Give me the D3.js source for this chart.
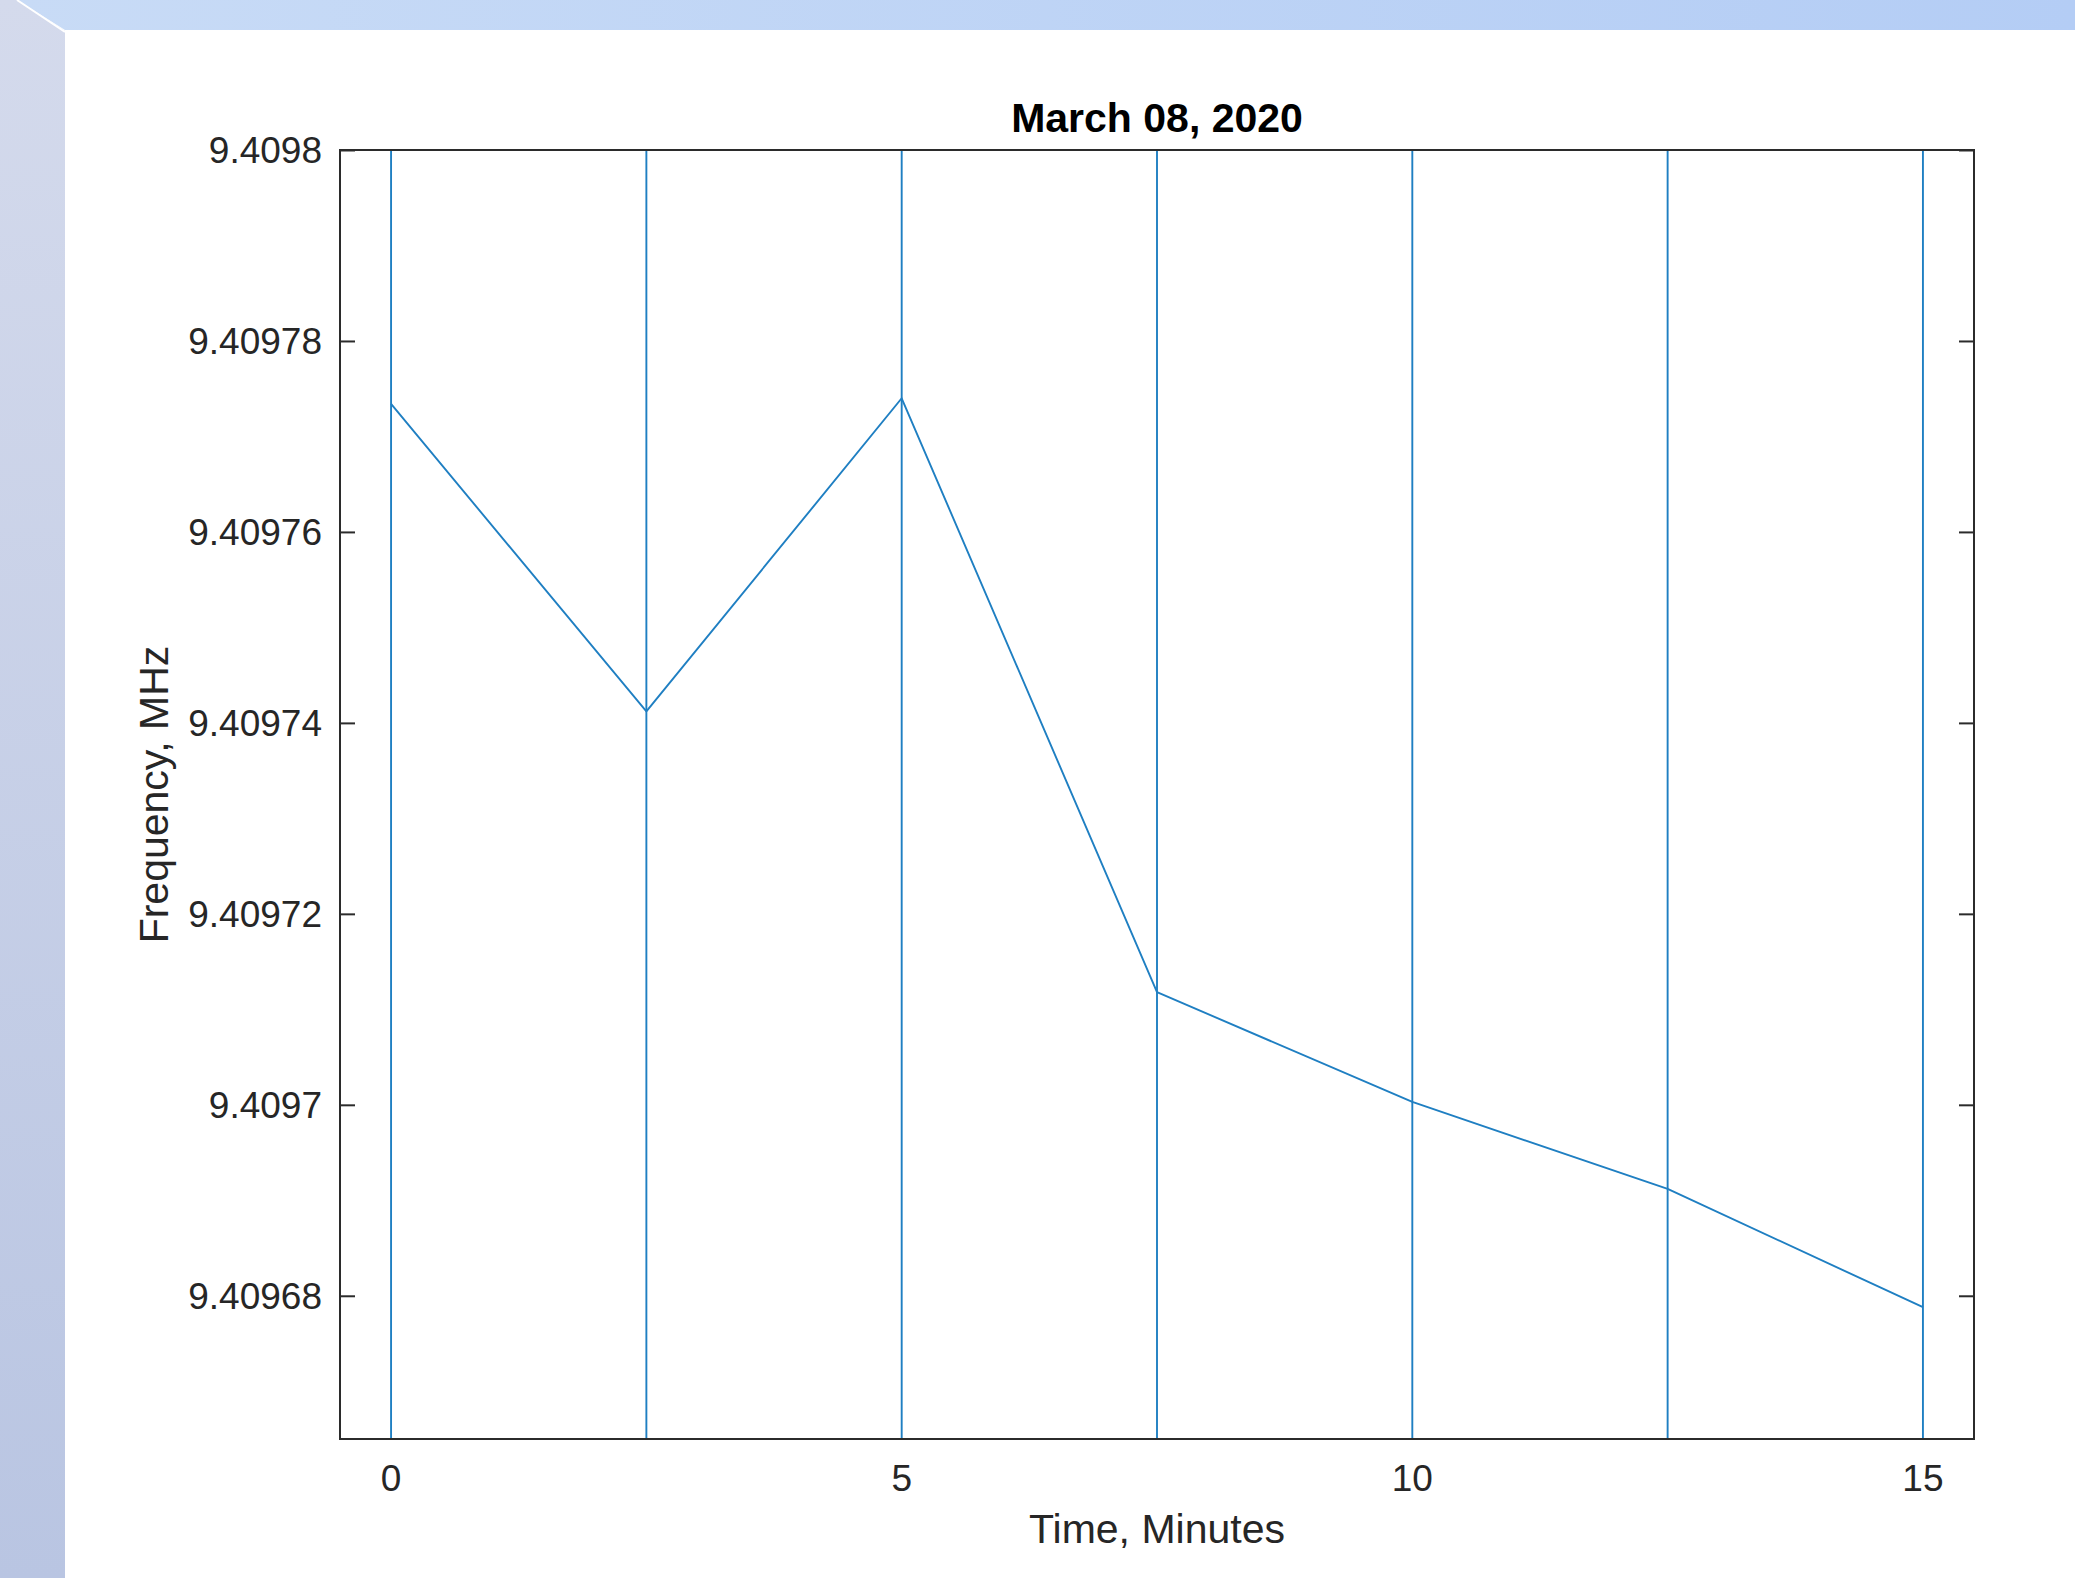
<!DOCTYPE html>
<html>
<head>
<meta charset="utf-8">
<script src="https://cdn.jsdelivr.net/npm/d3@7"></script>
<style>
  html, body { margin: 0; padding: 0; background: #ffffff; }
  svg { display: block; }
  text { font-family: "Liberation Sans", Arial, Helvetica, sans-serif; fill: #262626; }
</style>
</head>
<body>
<script>
// Measurement times (minutes) and frequency readings (MHz)
const timeMinutes = [0, 2.5, 5, 7.5, 10, 12.5, 15];
const frequencyMHz = [9.4097734, 9.4097412, 9.4097740, 9.4097118, 9.4097003, 9.4096912, 9.4096788];

// Axis ticks and their labels
const xTicks = [0, 5, 10, 15];
const xTickLabels = ["0", "5", "10", "15"];
const yTicks = [9.40968, 9.40970, 9.40972, 9.40974, 9.40976, 9.40978, 9.40980];
const yTickLabels = ["9.40968", "9.4097", "9.40972", "9.40974", "9.40976", "9.40978", "9.4098"];

const titleText = "March 08, 2020";
const xLabelText = "Time, Minutes";
const yLabelText = "Frequency, MHz";

const W = 2075, H = 1578;
const plot = { left: 340, top: 150, right: 1974, bottom: 1439 };
const lineColor = "#1f7fc2";
const axisColor = "#2b2b2b";

const svg = d3.select("body").append("svg")
  .attr("width", W).attr("height", H);

// Slide-style frame: gradient bands on the left and top
const defs = svg.append("defs");
const gLeft = defs.append("linearGradient").attr("id", "leftBand")
  .attr("x1", 0).attr("y1", 0).attr("x2", 0).attr("y2", 1);
gLeft.append("stop").attr("offset", "0%").attr("stop-color", "#d4daec");
gLeft.append("stop").attr("offset", "100%").attr("stop-color", "#b9c5e2");
const gTop = defs.append("linearGradient").attr("id", "topBand")
  .attr("x1", 0).attr("y1", 0).attr("x2", 1).attr("y2", 0);
gTop.append("stop").attr("offset", "0%").attr("stop-color", "#c8dbf6");
gTop.append("stop").attr("offset", "100%").attr("stop-color", "#b4cdf5");

svg.append("rect").attr("width", W).attr("height", H).attr("fill", "#ffffff");
svg.append("polygon")
  .attr("points", `0,0 17,0 65,31 65,${H} 0,${H}`)
  .attr("fill", "url(#leftBand)");
svg.append("polygon")
  .attr("points", `17,0 ${W},0 ${W},30 65,30`)
  .attr("fill", "url(#topBand)");
svg.append("line")
  .attr("x1", 17).attr("y1", 0).attr("x2", 65).attr("y2", 32)
  .attr("stroke", "#ffffff").attr("stroke-width", 2);

// Scales
const x = d3.scaleLinear().domain([-0.5, 15.5]).range([plot.left, plot.right]);
const y = d3.scaleLinear().domain([9.409665, 9.40980]).range([plot.bottom, plot.top]);

const pw = plot.right - plot.left, ph = plot.bottom - plot.top;
const tickLen = 15;

// Inward ticks on the left and right sides (x ticks sit under the time markers)
const axLeft = d3.axisRight(y).tickValues(yTicks).tickSize(tickLen).tickFormat("");
const axRight = d3.axisLeft(y).tickValues(yTicks).tickSize(tickLen).tickFormat("");

function styleAxis(g) {
  g.select(".domain").remove();
  g.selectAll(".tick line").attr("stroke", axisColor).attr("stroke-width", 2);
}
svg.append("g").attr("transform", `translate(${plot.left},0)`).call(axLeft).call(styleAxis);
svg.append("g").attr("transform", `translate(${plot.right},0)`).call(axRight).call(styleAxis);

// Vertical markers at each sampling time, spanning the full axes height
svg.append("g").selectAll("line.marker")
  .data(timeMinutes)
  .join("line")
  .attr("class", "marker")
  .attr("x1", d => x(d)).attr("x2", d => x(d))
  .attr("y1", y(y.domain()[0])).attr("y2", y(y.domain()[1]))
  .attr("stroke", lineColor).attr("stroke-width", 1.9);

// Frequency trace
const series = timeMinutes.map((t, i) => [t, frequencyMHz[i]]);
svg.append("path")
  .datum(series)
  .attr("fill", "none")
  .attr("stroke", lineColor)
  .attr("stroke-width", 1.9)
  .attr("stroke-linejoin", "round")
  .attr("d", d3.line().x(d => x(d[0])).y(d => y(d[1])));

// Axes box
svg.append("rect")
  .attr("x", plot.left).attr("y", plot.top)
  .attr("width", pw).attr("height", ph)
  .attr("fill", "none").attr("stroke", axisColor).attr("stroke-width", 2);

// Tick labels
svg.append("g").selectAll("text")
  .data(yTicks)
  .join("text")
  .attr("x", plot.left - 18)
  .attr("y", d => y(d))
  .attr("dy", "0.36em")
  .attr("text-anchor", "end")
  .attr("font-size", 37)
  .text((d, i) => yTickLabels[i]);

svg.append("g").selectAll("text")
  .data(xTicks)
  .join("text")
  .attr("x", d => x(d))
  .attr("y", 1491)
  .attr("text-anchor", "middle")
  .attr("font-size", 37)
  .text((d, i) => xTickLabels[i]);

// Titles
svg.append("text")
  .attr("x", (plot.left + plot.right) / 2)
  .attr("y", 132)
  .attr("text-anchor", "middle")
  .attr("font-size", 41)
  .attr("font-weight", "bold")
  .style("fill", "#000000")
  .text(titleText);

svg.append("text")
  .attr("x", (plot.left + plot.right) / 2)
  .attr("y", 1543)
  .attr("text-anchor", "middle")
  .attr("font-size", 41)
  .text(xLabelText);

svg.append("text")
  .attr("transform", `translate(168,${(plot.top + plot.bottom) / 2}) rotate(-90)`)
  .attr("text-anchor", "middle")
  .attr("font-size", 41)
  .text(yLabelText);
</script>
</body>
</html>
